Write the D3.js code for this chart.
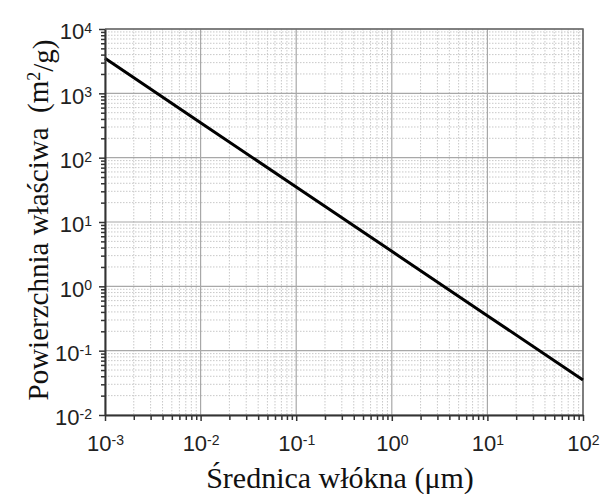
<!DOCTYPE html>
<html lang="pl">
<head>
<meta charset="UTF-8"/>
<title>Powierzchnia właściwa</title>
<script src="https://d3js.org/d3.v7.min.js"></script>
<style>
	body { margin: 0; background: #fff; }
</style>
</head>
<body>
<script>
var w = 601;
var h = 494;
var margin = {top: 29, right: 18, bottom: 79, left: 105};

// srednica wlokna (um) i powierzchnia wlasciwa (m2/g)
var diameter = [0.001, 0.01, 0.1, 1, 10, 100];
var surface = [3500, 350, 35, 3.5, 0.35, 0.035];

var xExponents = [-3, -2, -1, 0, 1, 2];
var yExponents = [-2, -1, 0, 1, 2, 3, 4];

var xTitle = "Średnica włókna (μm)";
var yTitle = "Powierzchnia właściwa  (m";

var data = diameter.map(function(d, i) { return [d, surface[i]]; });

var xScale = d3.scaleLog()
	.domain([1e-3, 1e2])
	.range([margin.left, w - margin.right]);

var yScale = d3.scaleLog()
	.domain([1e-2, 1e4])
	.range([h - margin.bottom, margin.top]);

var xMajor = xExponents.map(function(e) { return Math.pow(10, e); });
var yMajor = yExponents.map(function(e) { return Math.pow(10, e); });
var xMinor = xScale.ticks().filter(function(v) { return Math.abs(Math.log10(v) - Math.round(Math.log10(v))) > 1e-6; });
var yMinor = yScale.ticks().filter(function(v) { return Math.abs(Math.log10(v) - Math.round(Math.log10(v))) > 1e-6; });

var svg = d3.select("body")
	.append("svg")
	.attr("width", w)
	.attr("height", h);

// minor grid (dotted)
svg.append("g")
	.selectAll("line.xm")
	.data(xMinor)
	.enter()
	.append("line")
	.attr("x1", function(d) { return xScale(d); })
	.attr("x2", function(d) { return xScale(d); })
	.attr("y1", margin.top)
	.attr("y2", h - margin.bottom)
	.attr("stroke", "#c8c8c8")
	.attr("stroke-dasharray", "1.5,1.5")
	.attr("stroke-width", 1);

svg.append("g")
	.selectAll("line.ym")
	.data(yMinor)
	.enter()
	.append("line")
	.attr("x1", margin.left)
	.attr("x2", w - margin.right)
	.attr("y1", function(d) { return yScale(d); })
	.attr("y2", function(d) { return yScale(d); })
	.attr("stroke", "#c8c8c8")
	.attr("stroke-dasharray", "1.5,1.5")
	.attr("stroke-width", 1);

// major grid
svg.append("g")
	.selectAll("line")
	.data(xMajor)
	.enter()
	.append("line")
	.attr("x1", function(d) { return xScale(d); })
	.attr("x2", function(d) { return xScale(d); })
	.attr("y1", margin.top)
	.attr("y2", h - margin.bottom)
	.attr("stroke", "#a8a8a8")
	.attr("stroke-width", 1.2);

svg.append("g")
	.selectAll("line")
	.data(yMajor)
	.enter()
	.append("line")
	.attr("x1", margin.left)
	.attr("x2", w - margin.right)
	.attr("y1", function(d) { return yScale(d); })
	.attr("y2", function(d) { return yScale(d); })
	.attr("stroke", "#a8a8a8")
	.attr("stroke-width", 1.2);

// frame top / right
svg.append("path")
	.attr("d", "M" + margin.left + "," + margin.top + "H" + (w - margin.right) + "V" + (h - margin.bottom))
	.attr("fill", "none")
	.attr("stroke", "#666")
	.attr("stroke-width", 1.5);

// the line
svg.append("path")
	.datum(data)
	.attr("fill", "none")
	.attr("stroke", "#000")
	.attr("stroke-width", 3)
	.attr("d", d3.line()
		.x(function(d) { return xScale(d[0]); })
		.y(function(d) { return yScale(d[1]); }));

function powLabel(sel) {
	sel.selectAll(".tick text")
		.text("")
		.each(function(d) {
			var t = d3.select(this);
			t.append("tspan").text("10");
			t.append("tspan")
				.attr("dy", "-0.45em")
				.attr("font-size", "14px")
				.text(Math.round(Math.log10(d)));
		});
}

// minor ticks
svg.append("g")
	.attr("transform", "translate(0," + (h - margin.bottom) + ")")
	.call(d3.axisBottom(xScale).tickValues(xMinor).tickFormat("").tickSize(5).tickSizeOuter(0))
	.call(function(g) { g.select(".domain").remove(); g.selectAll("line").attr("stroke", "#333").attr("stroke-width", 1.5); });

svg.append("g")
	.attr("transform", "translate(" + margin.left + ",0)")
	.call(d3.axisLeft(yScale).tickValues(yMinor).tickFormat("").tickSize(4).tickSizeOuter(0))
	.call(function(g) { g.select(".domain").remove(); g.selectAll("line").attr("stroke", "#333").attr("stroke-width", 1.5); });

// major axes
var xAxis = svg.append("g")
	.attr("transform", "translate(0," + (h - margin.bottom) + ")")
	.call(d3.axisBottom(xScale).tickValues(xMajor).tickSize(6).tickSizeOuter(0).tickPadding(7))
	.call(function(g) {
		g.select(".domain").attr("stroke", "#333").attr("stroke-width", 2);
		g.selectAll("line").attr("stroke", "#333").attr("stroke-width", 1.5);
		g.selectAll("text").attr("font-family", "Liberation Sans, Arial, sans-serif").attr("font-size", "22px").attr("fill", "#222").attr("dy", "1.05em");
	});
powLabel(xAxis);

var yAxis = svg.append("g")
	.attr("transform", "translate(" + margin.left + ",0)")
	.call(d3.axisLeft(yScale).tickValues(yMajor).tickSize(6).tickSizeOuter(0).tickPadding(7))
	.call(function(g) {
		g.select(".domain").attr("stroke", "#333").attr("stroke-width", 2);
		g.selectAll("line").attr("stroke", "#333").attr("stroke-width", 1.5);
		g.selectAll("text").attr("font-family", "Liberation Sans, Arial, sans-serif").attr("font-size", "22px").attr("fill", "#222").attr("dy", "0.45em");
	});
powLabel(yAxis);

// axis titles
svg.append("text")
	.attr("x", 340)
	.attr("y", 488)
	.attr("text-anchor", "middle")
	.attr("font-family", "Liberation Serif, Times New Roman, serif")
	.attr("font-size", "30px")
	.attr("fill", "#111")
	.text(xTitle);

var yt = svg.append("text")
	.attr("transform", "translate(48,220) rotate(-90)")
	.attr("text-anchor", "middle")
	.attr("font-family", "Liberation Serif, Times New Roman, serif")
	.attr("font-size", "29px")
	.attr("fill", "#111")
	.style("white-space", "pre");
yt.append("tspan").text(yTitle);
yt.append("tspan").attr("dy", "-0.45em").attr("font-size", "18px").text("2");
yt.append("tspan").attr("dy", "0.45em").text("/g)");
</script>
</body>
</html>
